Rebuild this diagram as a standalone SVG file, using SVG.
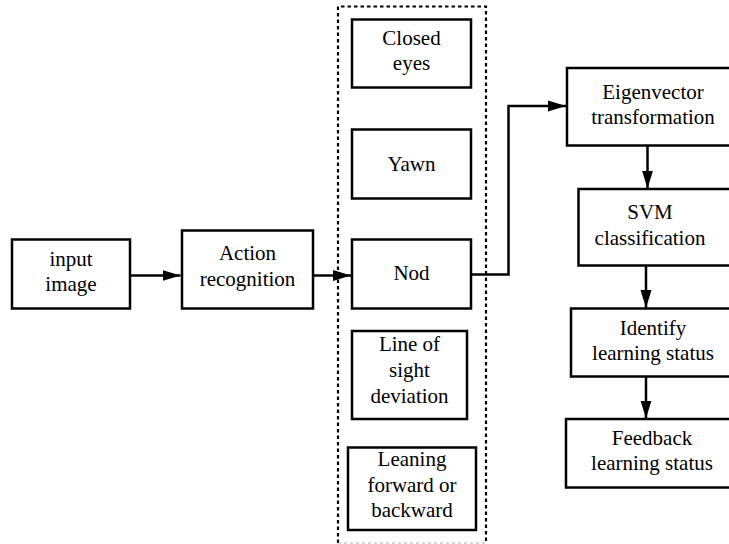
<svg xmlns="http://www.w3.org/2000/svg" width="729" height="544" viewBox="0 0 729 544">
<style>
.box{fill:#fff;stroke:#000;stroke-width:2.5}
.t{font-family:"Liberation Serif","Times New Roman",serif;font-size:21px;fill:#000;text-anchor:middle}
.c{fill:none;stroke:#000;stroke-width:2.5}
</style>
<defs>
<marker id="ah" markerWidth="18" markerHeight="12" refX="18" refY="6" orient="auto" markerUnits="userSpaceOnUse">
<path d="M0,0.5 L18,6 L0,11.5 Z" fill="#000"/>
</marker>
</defs>
<rect width="729" height="544" fill="#fff"/>
<g id="group-dashed">
<path d="M338,543 L338,6.5 L486,6.5 L486,543" fill="none" stroke="#000" stroke-width="2.2" stroke-dasharray="3.5,3"/>
<path d="M338,543 L486,543" fill="none" stroke="#aaa" stroke-width="1" stroke-dasharray="3,3"/>
</g>
<g id="n-input"><rect class="box" x="12" y="239.5" width="118" height="69"/><text class="t" x="71" y="266">input</text><text class="t" x="71" y="291">image</text></g>
<g id="n-action"><rect class="box" x="182" y="230.5" width="131" height="78"/><text class="t" x="247.5" y="260">Action</text><text class="t" x="247.5" y="286">recognition</text></g>
<g id="n-closed"><rect class="box" x="352" y="19.5" width="119" height="68"/><text class="t" x="411.5" y="45">Closed</text><text class="t" x="411.5" y="70">eyes</text></g>
<g id="n-yawn"><rect class="box" x="352" y="129.5" width="119" height="69"/><text class="t" x="411.5" y="171">Yawn</text></g>
<g id="n-nod"><rect class="box" x="352" y="239.5" width="119" height="69"/><text class="t" x="411.5" y="280">Nod</text></g>
<g id="n-sight"><rect class="box" x="352" y="331" width="115" height="88"/><text class="t" x="409.5" y="351">Line of</text><text class="t" x="409.5" y="377">sight</text><text class="t" x="409.5" y="403">deviation</text></g>
<g id="n-lean"><rect class="box" x="348" y="447.5" width="128" height="82.5"/><text class="t" x="412" y="466">Leaning</text><text class="t" x="412" y="492">forward or</text><text class="t" x="412" y="517">backward</text></g>
<g id="n-eigen"><rect class="box" x="567" y="68" width="180" height="77.5"/><text class="t" x="653" y="99">Eigenvector</text><text class="t" x="653" y="124">transformation</text></g>
<g id="n-svm"><rect class="box" x="578.5" y="189" width="170" height="76.5"/><text class="t" x="650" y="219">SVM</text><text class="t" x="650" y="245">classification</text></g>
<g id="n-identify"><rect class="box" x="571" y="308.5" width="178" height="68"/><text class="t" x="653" y="335">Identify</text><text class="t" x="653" y="360">learning status</text></g>
<g id="n-feedback"><rect class="box" x="566" y="419" width="183" height="68.5"/><text class="t" x="652" y="445">Feedback</text><text class="t" x="652" y="470">learning status</text></g>
<g id="connectors">
<path class="c" d="M130,275.5 L180.5,275.5" marker-end="url(#ah)"/>
<path class="c" d="M313,275.5 L351,275.5" marker-end="url(#ah)"/>
<path class="c" d="M471,274.5 L508.5,274.5 L508.5,106 L566,106" marker-end="url(#ah)"/>
<path class="c" d="M647.5,145.5 L647.5,188.5" marker-end="url(#ah)"/>
<path class="c" d="M646,265.5 L646,308" marker-end="url(#ah)"/>
<path class="c" d="M646,376.5 L646,418.5" marker-end="url(#ah)"/>
</g>
</svg>
